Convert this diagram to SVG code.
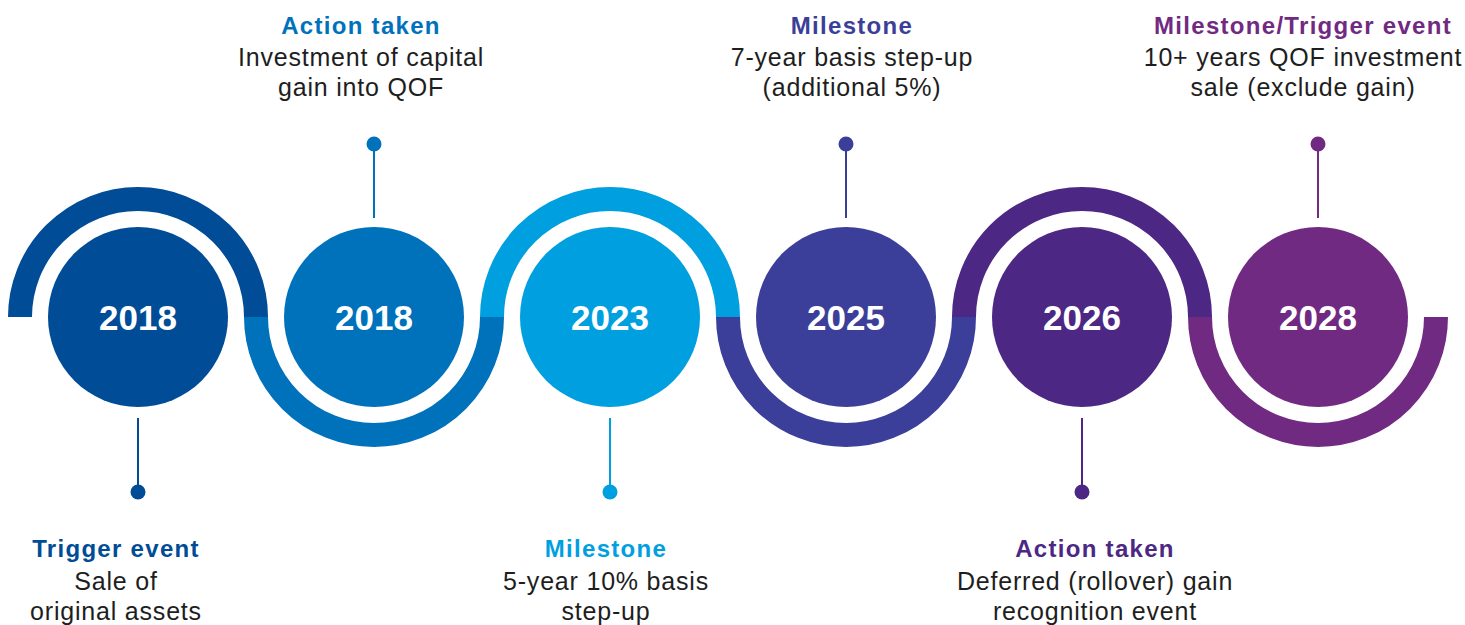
<svg xmlns="http://www.w3.org/2000/svg" width="1465" height="625" viewBox="0 0 1465 625">
<style>
.arc{fill:none;stroke-width:24;stroke-linecap:butt}
.yr{font-family:"Liberation Sans",Arial,sans-serif;font-weight:bold;font-size:35px;fill:#fff;text-anchor:middle}
.ttl{font-family:"Liberation Sans",Arial,sans-serif;font-weight:bold;font-size:24px;letter-spacing:1.3px;text-anchor:middle}
.bd{font-family:"Liberation Sans",Arial,sans-serif;font-size:25px;letter-spacing:0.8px;fill:#1e1e1e;text-anchor:middle}
.ln{stroke-width:2}
</style>
<rect width="1465" height="625" fill="#fff"/>
<g id="connectors">
<path class="arc" stroke="#004C97" d="M20 317 A118 118 0 0 1 256 317"/>
<path class="arc" stroke="#0072BC" d="M256 317 A118 118 0 0 0 492 317"/>
<path class="arc" stroke="#009FDF" d="M492 317 A118 118 0 0 1 728 317"/>
<path class="arc" stroke="#3C3F99" d="M728 317 A118 118 0 0 0 964 317"/>
<path class="arc" stroke="#4C2783" d="M964 317 A118 118 0 0 1 1200 317"/>
<path class="arc" stroke="#712A82" d="M1200 317 A118 118 0 0 0 1436 317"/>
<line class="ln" stroke="#004C97" x1="138" y1="418" x2="138" y2="492"/>
<circle cx="138" cy="492" r="7.5" fill="#004C97"/>
<line class="ln" stroke="#0072BC" x1="374" y1="144" x2="374" y2="218"/>
<circle cx="374" cy="144" r="7.5" fill="#0072BC"/>
<line class="ln" stroke="#009FDF" x1="610" y1="418" x2="610" y2="492"/>
<circle cx="610" cy="492" r="7.5" fill="#009FDF"/>
<line class="ln" stroke="#3C3F99" x1="846" y1="144" x2="846" y2="218"/>
<circle cx="846" cy="144" r="7.5" fill="#3C3F99"/>
<line class="ln" stroke="#4C2783" x1="1082" y1="418" x2="1082" y2="492"/>
<circle cx="1082" cy="492" r="7.5" fill="#4C2783"/>
<line class="ln" stroke="#712A82" x1="1318" y1="144" x2="1318" y2="218"/>
<circle cx="1318" cy="144" r="7.5" fill="#712A82"/>
</g>
<g id="node1">
<circle cx="138" cy="317" r="90" fill="#004C97"/>
<text class="yr" x="138" y="330">2018</text>
<text class="ttl" x="116" y="557" fill="#004C97">Trigger event</text>
<text class="bd" x="116" y="590">Sale of</text>
<text class="bd" x="116" y="620">original assets</text>
</g>
<g id="node2">
<circle cx="374" cy="317" r="90" fill="#0072BC"/>
<text class="yr" x="374" y="330">2018</text>
<text class="ttl" x="361" y="34" fill="#0072BC">Action taken</text>
<text class="bd" x="361" y="66">Investment of capital</text>
<text class="bd" x="361" y="96">gain into QOF</text>
</g>
<g id="node3">
<circle cx="610" cy="317" r="90" fill="#009FDF"/>
<text class="yr" x="610" y="330">2023</text>
<text class="ttl" x="606" y="557" fill="#009FDF">Milestone</text>
<text class="bd" x="606" y="590">5-year 10% basis</text>
<text class="bd" x="606" y="620">step-up</text>
</g>
<g id="node4">
<circle cx="846" cy="317" r="90" fill="#3C3F99"/>
<text class="yr" x="846" y="330">2025</text>
<text class="ttl" x="852" y="34" fill="#3C3F99">Milestone</text>
<text class="bd" x="852" y="66">7-year basis step-up</text>
<text class="bd" x="852" y="96">(additional 5%)</text>
</g>
<g id="node5">
<circle cx="1082" cy="317" r="90" fill="#4C2783"/>
<text class="yr" x="1082" y="330">2026</text>
<text class="ttl" x="1095" y="557" fill="#4C2783">Action taken</text>
<text class="bd" x="1095" y="590">Deferred (rollover) gain</text>
<text class="bd" x="1095" y="620">recognition event</text>
</g>
<g id="node6">
<circle cx="1318" cy="317" r="90" fill="#712A82"/>
<text class="yr" x="1318" y="330">2028</text>
<text class="ttl" x="1303" y="34" fill="#712A82">Milestone/Trigger event</text>
<text class="bd" x="1303" y="66">10+ years QOF investment</text>
<text class="bd" x="1303" y="96">sale (exclude gain)</text>
</g>
</svg>
